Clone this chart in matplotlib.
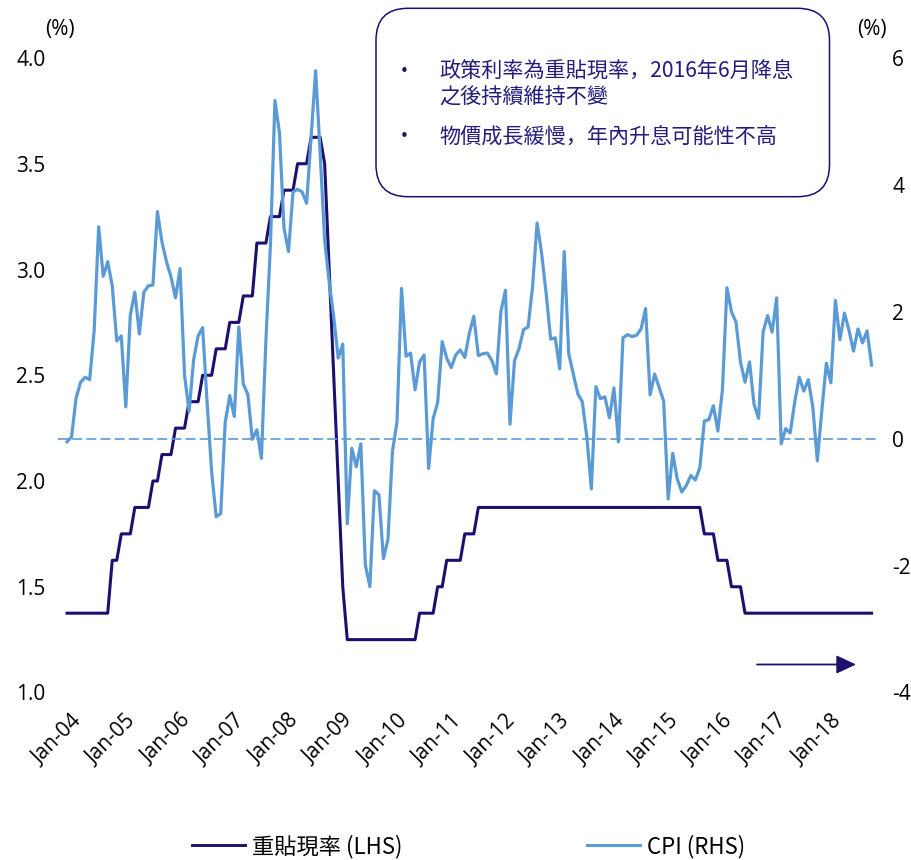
import matplotlib.pyplot as plt
import matplotlib.transforms as mtransforms
from matplotlib.lines import Line2D
from matplotlib.patches import FancyBboxPatch
import pandas as pd

NAVY = "#1B1070"
SKY = "#5B9BD5"
TEXT_NAVY = "#241C7C"

TICK_FONT = "Open Sans"
CJK_FONT = ["Noto Sans CJK JP", "DejaVu Sans"]

# monthly observations, Dec 2003 .. Oct 2018
months = pd.period_range("2003-12", "2018-10", freq="M")

# CBC discount rate, month-end (%)
policy_rate = (
    [1.375]                                                                      # 2003 Dec
    + [1.375, 1.375, 1.375, 1.375, 1.375, 1.375, 1.375, 1.375, 1.375, 1.625, 1.625, 1.75]   # 2004
    + [1.75, 1.75, 1.875, 1.875, 1.875, 1.875, 2.0, 2.0, 2.125, 2.125, 2.125, 2.25]         # 2005
    + [2.25, 2.25, 2.375, 2.375, 2.375, 2.5, 2.5, 2.5, 2.625, 2.625, 2.625, 2.75]           # 2006
    + [2.75, 2.75, 2.875, 2.875, 2.875, 3.125, 3.125, 3.125, 3.25, 3.25, 3.25, 3.375]       # 2007
    + [3.375, 3.375, 3.5, 3.5, 3.5, 3.625, 3.625, 3.625, 3.5, 3.0, 2.5, 2.0]                # 2008
    + [1.5, 1.25, 1.25, 1.25, 1.25, 1.25, 1.25, 1.25, 1.25, 1.25, 1.25, 1.25]               # 2009
    + [1.25, 1.25, 1.25, 1.25, 1.25, 1.375, 1.375, 1.375, 1.375, 1.5, 1.5, 1.625]           # 2010
    + [1.625, 1.625, 1.625, 1.75, 1.75, 1.75, 1.875, 1.875, 1.875, 1.875, 1.875, 1.875]     # 2011
    + [1.875, 1.875, 1.875, 1.875, 1.875, 1.875, 1.875, 1.875, 1.875, 1.875, 1.875, 1.875]  # 2012
    + [1.875, 1.875, 1.875, 1.875, 1.875, 1.875, 1.875, 1.875, 1.875, 1.875, 1.875, 1.875]  # 2013
    + [1.875, 1.875, 1.875, 1.875, 1.875, 1.875, 1.875, 1.875, 1.875, 1.875, 1.875, 1.875]  # 2014
    + [1.875, 1.875, 1.875, 1.875, 1.875, 1.875, 1.875, 1.875, 1.75, 1.75, 1.75, 1.625]     # 2015
    + [1.625, 1.625, 1.5, 1.5, 1.5, 1.375, 1.375, 1.375, 1.375, 1.375, 1.375, 1.375]        # 2016
    + [1.375, 1.375, 1.375, 1.375, 1.375, 1.375, 1.375, 1.375, 1.375, 1.375, 1.375, 1.375]  # 2017
    + [1.375, 1.375, 1.375, 1.375, 1.375, 1.375, 1.375, 1.375, 1.375, 1.375]                # 2018
)

# CPI, % YoY
cpi_yoy = (
    [-0.05]                                                                        # 2003 Dec
    + [0.03, 0.64, 0.89, 0.97, 0.93, 1.70, 3.34, 2.56, 2.79, 2.41, 1.54, 1.62]     # 2004
    + [0.50, 1.95, 2.31, 1.65, 2.31, 2.41, 2.42, 3.58, 3.10, 2.79, 2.55, 2.22]     # 2005
    + [2.68, 1.00, 0.43, 1.24, 1.62, 1.75, 0.56, -0.53, -1.23, -1.18, 0.26, 0.68]  # 2006
    + [0.35, 1.76, 0.86, 0.70, -0.01, 0.14, -0.31, 1.55, 3.05, 5.33, 4.82, 3.32]   # 2007
    + [2.95, 3.89, 3.93, 3.89, 3.71, 4.75, 5.80, 4.50, 3.12, 2.47, 1.92, 1.27]     # 2008
    + [1.49, -1.34, -0.15, -0.44, -0.08, -1.99, -2.33, -0.82, -0.88, -1.89, -1.59, -0.20]  # 2009
    + [0.26, 2.37, 1.30, 1.35, 0.77, 1.21, 1.32, -0.47, 0.32, 0.57, 1.53, 1.27]    # 2010
    + [1.12, 1.32, 1.40, 1.28, 1.66, 1.93, 1.31, 1.34, 1.35, 1.23, 1.02, 2.01]     # 2011
    + [2.34, 0.23, 1.23, 1.42, 1.72, 1.76, 2.40, 3.40, 2.92, 2.29, 1.57, 1.59]     # 2012
    + [1.10, 2.95, 1.34, 1.02, 0.71, 0.58, 0.03, -0.79, 0.82, 0.63, 0.66, 0.33]    # 2013
    + [0.80, -0.05, 1.59, 1.64, 1.61, 1.63, 1.73, 2.05, 0.69, 1.02, 0.81, 0.59]    # 2014
    + [-0.95, -0.23, -0.63, -0.84, -0.74, -0.58, -0.65, -0.46, 0.28, 0.30, 0.52, 0.12]  # 2015
    + [0.77, 2.38, 2.00, 1.84, 1.21, 0.89, 1.21, 0.54, 0.32, 1.68, 1.94, 1.68]     # 2016
    + [2.22, -0.08, 0.16, 0.09, 0.58, 0.97, 0.75, 0.93, 0.50, -0.35, 0.45, 1.19]   # 2017
    + [0.88, 2.18, 1.56, 1.98, 1.71, 1.38, 1.73, 1.51, 1.70, 1.16]                 # 2018
)

rate_label = "重貼現率 (LHS)"
cpi_label = "CPI (RHS)"
notes = [
    ["政策利率為重貼現率，2016年6月降息", "之後持續維持不變"],
    ["物價成長緩慢，年內升息可能性不高"],
]

left_ticks = [1.0, 1.5, 2.0, 2.5, 3.0, 3.5, 4.0]
right_ticks = [-4, -2, 0, 2, 4, 6]

# month index relative to Jan 2004
x = (months.year - 2004) * 12 + (months.month - 1)
jan = months[months.month == 1]
jan_x = (jan.year - 2004) * 12
jan_labels = list(jan.strftime("%b-%y"))

W, H = 911, 860
fig = plt.figure(figsize=(W / 100, H / 100), dpi=100)
ax = fig.add_axes([58 / W, 1 - 692.5 / H, 819 / W, 634.5 / H])
ax2 = ax.twinx()

ax.plot(x, policy_rate, color=NAVY, lw=2.2, zorder=3)
ax2.plot(x, cpi_yoy, color=SKY, lw=2.3, zorder=3)
ax2.axhline(0, color=SKY, lw=1.2, linestyle=(0, (6, 2.5)), zorder=2)

ax.set_xlim(-3.0, 178.2)
ax.set_ylim(1.0, 4.0)
ax2.set_ylim(-4, 6)

ax.set_yticks(left_ticks)
ax.set_yticklabels([f"{v:.1f}" for v in left_ticks])
ax2.set_yticks(right_ticks)
ax2.set_yticklabels([str(v) for v in right_ticks])

ax.set_xticks(jan_x)
ax.set_xticklabels(jan_labels, rotation=45, ha="right", va="top",
                   rotation_mode="anchor")
shift = mtransforms.ScaledTranslation(3 / 100, 0, fig.dpi_scale_trans)
for lbl in ax.get_xticklabels():
    lbl.set_transform(lbl.get_transform() + shift)

for a in (ax, ax2):
    for s in a.spines.values():
        s.set_visible(False)
    a.tick_params(length=0, labelsize=15, colors="black")
ax.tick_params(axis="y", pad=9)
ax2.tick_params(axis="y", pad=11)
ax.tick_params(axis="x", pad=13, labelsize=15)
for lbl in ax.get_xticklabels() + ax.get_yticklabels() + ax2.get_yticklabels():
    lbl.set_fontfamily(TICK_FONT)

fig.text(60 / W, 1 - 30 / H, "(%)", ha="center", va="center",
         fontsize=15, family=TICK_FONT)
fig.text(872 / W, 1 - 30 / H, "(%)", ha="center", va="center",
         fontsize=15, family=TICK_FONT)

# legend along the bottom
handles = [Line2D([], [], color=NAVY, lw=2.1), Line2D([], [], color=SKY, lw=2.2)]
fig.legend(handles, [rate_label, cpi_label], loc="center",
           bbox_to_anchor=(0.514, 0.016), ncol=2, frameon=False,
           prop={"family": CJK_FONT, "size": 16}, handlelength=2.4,
           handletextpad=0.3, columnspacing=8.3)

# commentary box
box = FancyBboxPatch((376, H - 196.7), 453.5, 188.4,
                     boxstyle="round,pad=0,rounding_size=32",
                     transform=mtransforms.IdentityTransform(),
                     facecolor="white", edgecolor=NAVY, lw=1.1, zorder=5)
fig.add_artist(box)

line_y = [[71.7, 97.7], [136.7]]
for para, ys in zip(notes, line_y):
    fig.text(404 / W, 1 - ys[0] / H, "•", ha="center", va="center",
             fontsize=11, color=NAVY, family="DejaVu Sans", zorder=6)
    for text, y in zip(para, ys):
        fig.text(439 / W, 1 - y / H, text, ha="left", va="center",
                 fontsize=15.2, color=TEXT_NAVY, family=CJK_FONT, zorder=6)

# direction arrow
ax.annotate("", xy=(856 / W, 1 - 664.5 / H), xytext=(757 / W, 1 - 664.5 / H),
            xycoords="figure fraction", textcoords="figure fraction",
            arrowprops=dict(arrowstyle="-|>,head_length=0.6,head_width=0.28",
                            mutation_scale=20, color=NAVY, lw=1.3,
                            shrinkA=0, shrinkB=0))

fig.savefig("out.png", dpi=100)
